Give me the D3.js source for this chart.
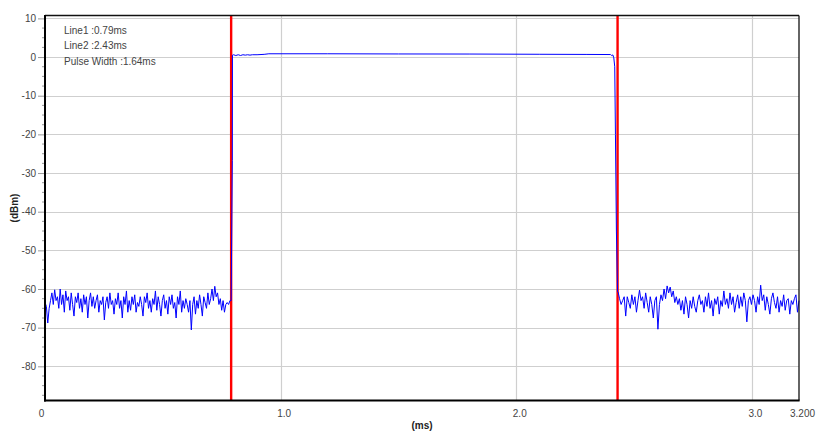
<!DOCTYPE html>
<html>
<head>
<meta charset="utf-8">
<script src="https://cdn.jsdelivr.net/npm/d3@7"></script>
<style>
  html, body { margin: 0; padding: 0; background: #ffffff; }
  svg { display: block; font-family: "Liberation Sans", Arial, sans-serif; }
</style>
</head>
<body>
<svg id="chart" width="817" height="432"></svg>
<script>
// ---------------- DATA ----------------
const xDomain = [0, 3.2];
const yDomain = [-88.84, 10.75];
const xTickValues = [0, 1.0, 2.0, 3.0, 3.2];
const xTickLabels = ["0", "1.0", "2.0", "3.0", "3.200"];
const xGridValues = [1.0, 2.0, 3.0];
const yTickValues = [10, 0, -10, -20, -30, -40, -50, -60, -70, -80];
const yTickLabels = ["10", "0", "-10", "-20", "-30", "-40", "-50", "-60", "-70", "-80"];
const markerLines = [0.79, 2.43];            // Line1, Line2 (ms)
const legendTexts = ["Line1 :0.79ms", "Line2 :2.43ms", "Pulse Width :1.64ms"];
const xTitle = "(ms)";
const yTitle = "(dBm)";

// noise floor before the pulse (dBm), sampled evenly from leftNoiseRange[0] to leftNoiseRange[1] ms
const leftNoiseRange = [0, 0.785];
const leftNoise = [
  -63.5, -64.5, -68.8, -65, -63,
  -61, -64, -60.2, -63, -62, -65, -60, -64, -61.5, -66, -60.5, -63,
  -62, -65.5, -61, -64, -67, -62, -63.5, -61, -65, -62.5, -66, -61.5, -64, -62, -67.5, -63, -61, -64.5, -62,
  -65, -63, -61.5, -66, -63, -64, -62, -68, -63.5, -62, -65, -61, -64, -63, -66.5, -62.5, -64,
  -61, -65, -63, -67.5, -62, -64, -60.5, -66, -63, -65.5, -62, -64, -61.5, -66, -63.5, -64.5, -62,
  -64, -67, -62, -63.5, -61, -65, -63, -66, -62.5, -64, -60.5, -65.5, -62, -64, -67, -63, -61.5,
  -65, -63, -66.5, -62, -64, -61.5, -65, -63.5, -67.5, -62, -64, -60.5, -66, -63, -65, -62.5, -64,
  -66, -63, -70.6, -64, -62, -66.5, -63, -65, -61.5, -64, -67, -62, -63.5, -65, -61, -64, -62.5,
  -60, -63, -59.3, -62, -61, -64, -62.5, -65.5, -63, -66, -64, -63.5, -64, -63
];

// the pulse itself: time (ms) and level (dBm)
const pulseTimes = [0.790, 0.795, 0.7955, 0.800, 0.810, 0.820, 0.830, 0.840, 0.850, 0.860, 0.870, 0.880,
  0.900, 0.930, 0.950, 1.200, 1.500, 1.800, 2.100, 2.300, 2.400, 2.405, 2.410, 2.414, 2.418, 2.421, 2.425, 2.430];
const pulseLevels = [-63, -26.8, 0.5, 0.6, 0.4, 0.6, 0.4, 0.6, 0.5, 0.6, 0.5, 0.6,
  0.6, 0.7, 0.85, 0.85, 0.8, 0.78, 0.72, 0.68, 0.65, 0.4, 0.55, -0.2, -2.5, -20, -45, -60.7];

// noise floor after the pulse (dBm)
const rightNoiseRange = [2.432, 3.2];
const rightNoise = [
  -60.7, -62.5, -64, -63, -62, -67,
  -62, -63.5, -65, -61.5, -64, -62, -66, -63, -60.3, -63,
  -62, -65, -61, -63.5, -66, -62, -64, -67.5, -63, -62, -70.4,
  -64, -61.5, -63, -60, -62.5, -59.2, -61, -59.5, -62, -60.5, -63.5, -62,
  -64, -62.5, -65.5, -63, -66.5, -62, -64, -67.5, -63, -65, -62, -64.5, -66, -63, -61.5, -64,
  -63, -66, -62, -64.5, -61, -65, -63, -67, -62.5, -64, -62, -66.5, -63, -64.5, -60.5, -64,
  -62.5, -65, -61, -64, -62, -66, -63.5, -61.5, -65, -62, -64.5, -61, -63, -68.5, -63, -62,
  -64, -61.5, -63, -66, -62, -64, -59, -63, -61.5, -65.5, -62, -64, -66.5, -62.5,
  -61, -63.5, -65, -62, -66, -63, -64.5, -61.5, -65.5, -63, -62.5, -66.5, -63, -64, -62.5, -61.5, -66, -63
];

// ---------------- CHART ----------------
const svg = d3.select("#chart");
const plot = { left: 45, right: 799, top: 15.5, bottom: 400.5 };

const x = d3.scaleLinear().domain(xDomain).range([plot.left, plot.right]);
const y = d3.scaleLinear().domain(yDomain).range([plot.bottom, plot.top]);

function spread(values, range) {
  const n = values.length;
  return values.map((v, i) => ({ t: range[0] + (range[1] - range[0]) * i / (n - 1), v }));
}
const trace = []
  .concat(spread(leftNoise, leftNoiseRange))
  .concat(pulseTimes.map((t, i) => ({ t, v: pulseLevels[i] })))
  .concat(spread(rightNoise, rightNoiseRange));

// grid
const gridColor = "#cfcfcf";
svg.append("g").selectAll("line").data(yTickValues).join("line")
  .attr("x1", plot.left).attr("x2", plot.right)
  .attr("y1", d => Math.round(y(d)) + 0.5).attr("y2", d => Math.round(y(d)) + 0.5)
  .attr("stroke", gridColor).attr("stroke-width", 1.2);
svg.append("g").selectAll("line").data(xGridValues).join("line")
  .attr("x1", d => Math.round(x(d)) + 0.5).attr("x2", d => Math.round(x(d)) + 0.5)
  .attr("y1", plot.top).attr("y2", plot.bottom)
  .attr("stroke", gridColor).attr("stroke-width", 1.2);

// y axis via d3 axis (major ticks + labels)
const yAxis = d3.axisLeft(y).tickValues(yTickValues)
  .tickFormat((d, i) => yTickLabels[i]).tickSize(7).tickPadding(2);
const gy = svg.append("g").attr("transform", `translate(${plot.left},0)`).call(yAxis);
gy.select(".domain").remove();
gy.selectAll(".tick line").attr("stroke", "#9a9a9a");
gy.selectAll(".tick text").attr("fill", "#444").style("font-size", "10px")
  .style("font-family", "'Liberation Sans', Arial, sans-serif");

// minor y ticks
const minorY = d3.range(10, yDomain[0], -2.5).filter(v => v % 10 !== 0);
svg.append("g").selectAll("line").data(minorY).join("line")
  .attr("x1", plot.left - 3).attr("x2", plot.left)
  .attr("y1", d => y(d)).attr("y2", d => y(d))
  .attr("stroke", "#9a9a9a").attr("stroke-width", 1);

// x axis labels
const xAxis = d3.axisBottom(x).tickValues(xTickValues)
  .tickFormat((d, i) => xTickLabels[i]).tickSize(0).tickPadding(9);
const gx = svg.append("g").attr("transform", `translate(0,${plot.bottom})`).call(xAxis);
gx.select(".domain").remove();
gx.selectAll(".tick text").attr("fill", "#444").style("font-size", "10px")
  .style("font-family", "'Liberation Sans', Arial, sans-serif")
  .attr("dx", (d, i) => i === 0 ? -4 : 3);

// marker lines (red)
svg.append("g").selectAll("line").data(markerLines).join("line")
  .attr("x1", d => x(d)).attr("x2", d => x(d))
  .attr("y1", plot.top).attr("y2", plot.bottom)
  .attr("stroke", "#ff0000").attr("stroke-width", 2.4);

// trace
const line = d3.line().x(d => x(d.t)).y(d => y(d.v));
svg.append("path").datum(trace)
  .attr("d", line).attr("fill", "none")
  .attr("stroke", "#0000ff").attr("stroke-width", 1)
  .attr("stroke-linejoin", "miter");

// frame
svg.append("line").attr("x1", plot.left).attr("x2", plot.right)
  .attr("y1", plot.top).attr("y2", plot.top).attr("stroke", "#111").attr("stroke-width", 1.3);
svg.append("line").attr("x1", plot.right).attr("x2", plot.right)
  .attr("y1", plot.top).attr("y2", plot.bottom).attr("stroke", "#111").attr("stroke-width", 1.3);
svg.append("line").attr("x1", plot.left).attr("x2", plot.left)
  .attr("y1", plot.top - 0.6).attr("y2", plot.bottom + 1).attr("stroke", "#000").attr("stroke-width", 2);
svg.append("line").attr("x1", plot.left - 1).attr("x2", plot.right + 0.6)
  .attr("y1", plot.bottom).attr("y2", plot.bottom).attr("stroke", "#000").attr("stroke-width", 2);

// legend text
svg.append("g").selectAll("text").data(legendTexts).join("text")
  .attr("x", 64).attr("y", (d, i) => 34 + i * 15.3)
  .attr("fill", "#444").style("font-size", "10px").text(d => d);

// axis titles
svg.append("text").attr("x", (plot.left + plot.right) / 2).attr("y", 429)
  .attr("text-anchor", "middle").style("font-size", "10px").style("font-weight", "bold")
  .attr("fill", "#222").text(xTitle);
svg.append("text")
  .attr("transform", `translate(18,${(plot.top + plot.bottom) / 2}) rotate(-90)`)
  .attr("text-anchor", "middle").style("font-size", "10px").style("font-weight", "bold")
  .attr("fill", "#222").text(yTitle);
</script>
</body>
</html>
